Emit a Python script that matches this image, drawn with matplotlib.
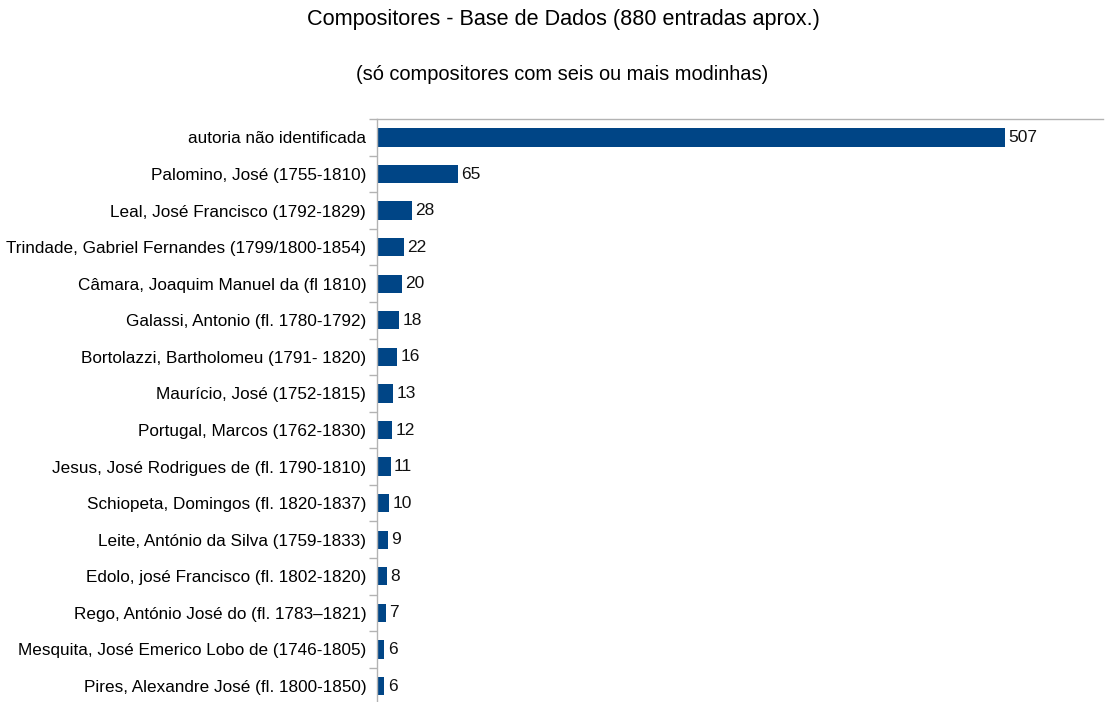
import matplotlib.pyplot as plt
import numpy as np

plt.rcParams["font.family"] = ["Liberation Sans", "DejaVu Sans"]

compositores = [
    "autoria não identificada",
    "Palomino, José (1755-1810)",
    "Leal, José Francisco (1792-1829)",
    "Trindade, Gabriel Fernandes (1799/1800-1854)",
    "Câmara, Joaquim Manuel da (fl 1810)",
    "Galassi, Antonio (fl. 1780-1792)",
    "Bortolazzi, Bartholomeu (1791- 1820)",
    "Maurício, José (1752-1815)",
    "Portugal, Marcos (1762-1830)",
    "Jesus, José Rodrigues de (fl. 1790-1810)",
    "Schiopeta, Domingos (fl. 1820-1837)",
    "Leite, António da Silva (1759-1833)",
    "Edolo, josé Francisco (fl. 1802-1820)",
    "Rego, António José do (fl. 1783–1821)",
    "Mesquita, José Emerico Lobo de (1746-1805)",
    "Pires, Alexandre José (fl. 1800-1850)",
]
modinhas = [507, 65, 28, 22, 20, 18, 16, 13, 12, 11, 10, 9, 8, 7, 6, 6]

W, H = 1110, 702
fig = plt.figure(figsize=(W / 100, H / 100), dpi=100)
top, bottom = 119.2, 704.3
left, right = 377, 1103
ax = fig.add_axes([left / W, 1 - bottom / H, (right - left) / W, (bottom - top) / H])

n = len(compositores)
y = np.arange(n)
barras = ax.barh(y, modinhas, height=0.5, color="#004586")
ax.set_ylim(n - 0.5, -0.5)
ax.set_xlim(0, (right - left) / ((1005 - 377) / 507))

for b, v in zip(barras, modinhas):
    ax.annotate(str(v), (b.get_width(), b.get_y() + b.get_height() / 2),
                xytext=(2.4, 0), textcoords="offset points",
                va="center", ha="left", fontsize=12.5, color="#111111")

ax.set_yticks(y)
ax.set_yticklabels(compositores, fontsize=12.3)
ax.set_yticks(np.arange(n + 1) - 0.5, minor=True)
ax.tick_params(axis="y", which="major", length=0, pad=7.8)
ax.tick_params(axis="y", which="minor", length=6, color="#b3b3b3", width=1)
ax.set_xticks([])

for s in ["right", "bottom"]:
    ax.spines[s].set_visible(False)
for s in ["left", "top"]:
    ax.spines[s].set_color("#b3b3b3")
    ax.spines[s].set_linewidth(1)

fig.text(563.5 / W, 1 - 20 / H, "Compositores - Base de Dados (880 entradas aprox.)",
         ha="center", va="center", fontsize=15.6)
fig.text(562.5 / W, 1 - 75 / H, "(só compositores com seis ou mais modinhas)",
         ha="center", va="center", fontsize=14.4)

fig.savefig("out.png", dpi=100)
